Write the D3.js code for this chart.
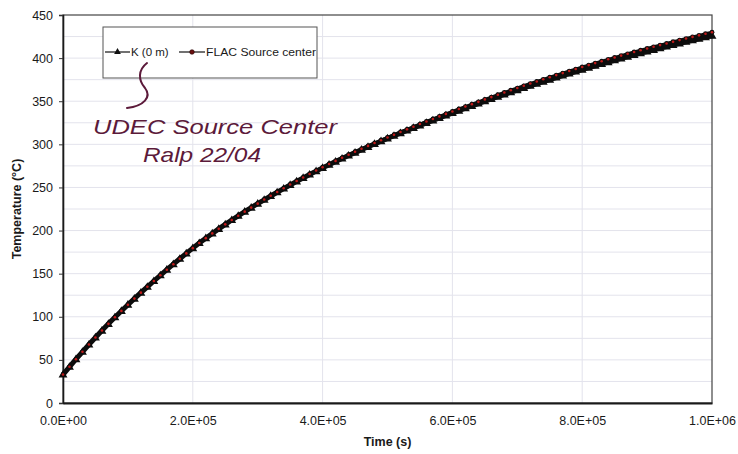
<!DOCTYPE html>
<html>
<head>
<meta charset="utf-8">
<script src="https://cdn.jsdelivr.net/npm/d3@7"></script>
<style>
  html, body { margin: 0; padding: 0; background: #ffffff; }
  svg { display: block; }
  text { font-family: "Liberation Sans", Arial, sans-serif; fill: #1a1a1a; }
</style>
</head>
<body>
<svg id="chart" width="738" height="454"></svg>
<script>
// ---------- DATA ----------
const timeS = [0,10000,20000,30000,40000,50000,60000,70000,80000,90000,
  100000,110000,120000,130000,140000,150000,160000,170000,180000,190000,
  200000,210000,220000,230000,240000,250000,260000,270000,280000,290000,
  300000,310000,320000,330000,340000,350000,360000,370000,380000,390000,
  400000,410000,420000,430000,440000,450000,460000,470000,480000,490000,
  500000,510000,520000,530000,540000,550000,560000,570000,580000,590000,
  600000,610000,620000,630000,640000,650000,660000,670000,680000,690000,
  700000,710000,720000,730000,740000,750000,760000,770000,780000,790000,
  800000,810000,820000,830000,840000,850000,860000,870000,880000,890000,
  900000,910000,920000,930000,940000,950000,960000,970000,980000,990000,
  1000000];

const tempK0m = [33.0,42.0,50.8,59.4,67.8,76.0,84.0,91.8,99.4,106.8,
  114.0,121.1,128.0,134.8,141.5,148.1,154.6,161.0,167.3,173.5,
  179.6,185.5,191.2,196.7,202.0,207.2,212.2,217.1,221.9,226.6,
  231.2,235.7,240.1,244.4,248.7,252.9,257.0,261.0,265.0,268.9,
  272.7,276.4,280.0,283.5,287.0,290.4,293.8,297.1,300.4,303.6,
  306.8,309.9,313.0,316.0,319.0,322.0,324.9,327.8,330.7,333.5,
  336.3,339.1,341.9,344.6,347.3,350.0,352.6,355.2,357.8,360.4,
  362.9,365.4,367.9,370.3,372.7,375.1,377.5,379.8,382.1,384.4,
  386.7,388.9,391.1,393.3,395.4,397.5,399.6,401.7,403.7,405.7,
  407.7,409.6,411.5,413.4,415.3,417.1,418.9,420.7,422.5,424.3,
  426.0];

const tempFlac = [33.0,42.0,50.8,59.4,67.8,76.0,84.0,91.8,99.4,106.8,
  114.0,121.1,128.0,134.8,141.5,148.1,154.6,161.0,167.3,173.5,
  179.6,185.5,191.2,196.7,202.0,207.2,212.2,217.1,221.9,226.6,
  231.2,236.0,240.4,244.8,249.1,253.4,257.5,261.6,265.6,269.6,
  273.4,277.2,280.8,284.4,287.9,291.4,294.8,298.2,301.5,304.8,
  308.0,311.2,314.3,317.4,320.4,323.5,326.5,329.4,332.4,335.3,
  338.1,341.0,343.8,346.6,349.3,352.1,354.8,357.5,360.1,362.8,
  365.3,367.9,370.5,372.9,375.4,377.8,380.3,382.6,385.0,387.3,
  389.7,391.9,394.2,396.4,398.6,400.7,402.9,405.0,407.1,409.1,
  411.2,413.1,415.1,417.0,419.0,420.9,422.7,424.6,426.4,428.3,
  430.0];

const xTicks = [0, 200000, 400000, 600000, 800000, 1000000];
const yTicks = [0, 50, 100, 150, 200, 250, 300, 350, 400, 450];
const yGrid  = [25, 50, 75, 100, 125, 150, 175, 200, 225, 250, 275, 300, 325, 350, 375, 400, 425];
const seriesNames = ["K (0 m)", "FLAC Source center"];
const xTitle = "Time (s)";
const yTitle = "Temperature (°C)";
const noteLines = ["UDEC Source Center", "Ralp 22/04"];

// ---------- LAYOUT ----------
const svg = d3.select("#chart");
const L = 63, R = 712, T = 15, B = 403;

const x = d3.scaleLinear().domain([0, 1000000]).range([L, R]);
const y = d3.scaleLinear().domain([0, 450]).range([B, T]);

// gridlines
svg.append("g").selectAll("line").data(yGrid).join("line")
  .attr("x1", L).attr("x2", R)
  .attr("y1", d => y(d)).attr("y2", d => y(d))
  .attr("stroke", "#e3e3ec").attr("stroke-width", 1);
svg.append("g").selectAll("line").data(xTicks.slice(1, -1)).join("line")
  .attr("x1", d => x(d)).attr("x2", d => x(d))
  .attr("y1", T).attr("y2", B)
  .attr("stroke", "#e3e3ec").attr("stroke-width", 1);

// frame
svg.append("rect").attr("x", L).attr("y", T).attr("width", R - L).attr("height", B - T)
  .attr("fill", "none").attr("stroke", "#444").attr("stroke-width", 1.2);

// axes
const xAxis = d3.axisBottom(x).tickValues(xTicks).tickSize(0).tickPadding(13)
  .tickFormat(d => {
    const e = d === 0 ? 0 : Math.floor(Math.log10(d));
    const m = d === 0 ? 0 : d / Math.pow(10, e);
    return m.toFixed(1) + "E+" + String(e).padStart(2, "0");
  });
const gx = svg.append("g").attr("transform", `translate(0,${B})`).call(xAxis);
gx.select(".domain").attr("stroke", "#1a1a1a").attr("stroke-width", 2);
gx.selectAll("text").attr("font-size", 12.5).attr("fill", "#222")
  .attr("font-family", "Liberation Sans, Arial, sans-serif");

const yAxis = d3.axisLeft(y).tickValues(yTicks).tickSize(4).tickPadding(6);
const gy = svg.append("g").attr("transform", `translate(${L},0)`).call(yAxis);
gy.select(".domain").attr("stroke", "#1a1a1a").attr("stroke-width", 1.6);
gy.selectAll(".tick line").attr("stroke", "#333");
gy.selectAll("text").attr("font-size", 12.5).attr("fill", "#222")
  .attr("font-family", "Liberation Sans, Arial, sans-serif");

// axis titles
svg.append("text").attr("x", (L + R) / 2).attr("y", 446)
  .attr("text-anchor", "middle").attr("font-size", 12.5).attr("font-weight", "bold")
  .text(xTitle);
svg.append("text").attr("transform", `translate(21,${(T + B) / 2}) rotate(-90)`)
  .attr("text-anchor", "middle").attr("font-size", 12.5).attr("font-weight", "bold")
  .text(yTitle);

// series
const dataK = timeS.map((t, i) => [t, tempK0m[i]]);
const dataF = timeS.map((t, i) => [t, tempFlac[i]]);
const line = d3.line().x(d => x(d[0])).y(d => y(d[1]));
const tri = d3.symbol().type(d3.symbolTriangle).size(34);

svg.append("path").datum(dataK).attr("d", line)
  .attr("fill", "none").attr("stroke", "#0d0d0d").attr("stroke-width", 5);
svg.append("g").selectAll("path").data(dataK).join("path")
  .attr("d", tri).attr("transform", d => `translate(${x(d[0])},${y(d[1]) + 0.5})`)
  .attr("fill", "#0d0d0d");

svg.append("path").datum(dataF).attr("d", line)
  .attr("fill", "none").attr("stroke", "#0d0d0d").attr("stroke-width", 3);
svg.append("g").selectAll("circle").data(dataF).join("circle")
  .attr("cx", d => x(d[0])).attr("cy", d => y(d[1])).attr("r", 2.4)
  .attr("fill", "#0d0d0d");
svg.append("g").selectAll("circle").data(dataF).join("circle")
  .attr("cx", d => x(d[0])).attr("cy", d => y(d[1])).attr("r", 1.3)
  .attr("fill", "#c01a1a");

// legend
const lg = svg.append("g");
lg.append("rect").attr("x", 103).attr("y", 27).attr("width", 214).attr("height", 51)
  .attr("fill", "#ffffff").attr("stroke", "#555").attr("stroke-width", 1);
const ly = 52;
lg.append("line").attr("x1", 105).attr("x2", 130).attr("y1", ly).attr("y2", ly)
  .attr("stroke", "#111").attr("stroke-width", 1.2);
lg.append("path").attr("d", d3.symbol().type(d3.symbolTriangle).size(20))
  .attr("transform", `translate(117.5,${ly})`).attr("fill", "#111");
lg.append("text").attr("x", 131).attr("y", ly + 4).attr("font-size", 11.5).text(seriesNames[0]);
lg.append("line").attr("x1", 179).attr("x2", 205).attr("y1", ly).attr("y2", ly)
  .attr("stroke", "#111").attr("stroke-width", 1.2);
lg.append("circle").attr("cx", 192).attr("cy", ly).attr("r", 2.3)
  .attr("fill", "#6a1010").attr("stroke", "#200").attr("stroke-width", 0.6);
lg.append("text").attr("x", 206).attr("y", ly + 4).attr("font-size", 11.5)
  .attr("textLength", 110).attr("lengthAdjust", "spacingAndGlyphs").text(seriesNames[1]);

// handwritten annotation
const ink = "#5c1a3a";
svg.append("path")
  .attr("d", "M147,63 C138,70 138,80 145,88 C152,97 144,106 127,108")
  .attr("fill", "none").attr("stroke", ink).attr("stroke-width", 2).attr("stroke-linecap", "round");
svg.append("text").attr("x", 93).attr("y", 134)
  .attr("font-family", "DejaVu Sans, sans-serif").attr("font-style", "italic").attr("font-weight", 200)
  .attr("font-size", 21).attr("textLength", 244).attr("lengthAdjust", "spacingAndGlyphs")
  .style("fill", ink).text(noteLines[0]);
svg.append("text").attr("x", 143).attr("y", 162)
  .attr("font-family", "DejaVu Sans, sans-serif").attr("font-style", "italic").attr("font-weight", 200)
  .attr("font-size", 21).attr("textLength", 118).attr("lengthAdjust", "spacingAndGlyphs")
  .style("fill", ink).text(noteLines[1]);
</script>
</body>
</html>
